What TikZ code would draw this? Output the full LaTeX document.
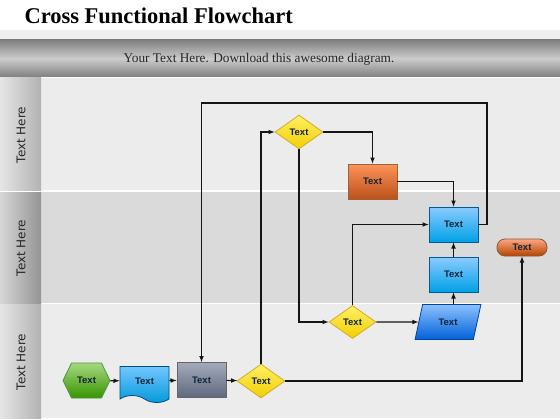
\documentclass[tikz,border=0pt]{standalone}
\usepackage{fontspec}
\setmainfont{Liberation Serif}
\newfontfamily\lanefont{DejaVu Sans}
\newfontfamily\boxfont{Liberation Sans}
\usetikzlibrary{shapes.geometric,shapes.symbols}
\definecolor{laneA}{HTML}{ECECEC}
\definecolor{laneB}{HTML}{DADADA}
\definecolor{txtnavy}{HTML}{14243A}
\definecolor{wire}{HTML}{151515}
\definecolor{slatetop}{HTML}{A3ABBA}
\definecolor{slatebot}{HTML}{5E687E}
\tikzset{
	shape base/.style={draw,line width=0.8pt,inner sep=0pt,text=txtnavy,font=\boxfont\bfseries\fontsize{9.5}{11}\selectfont},
	procbox/.style={shape base,rectangle,minimum width=49pt,minimum height=35pt},
	bluebox/.style={procbox,draw=blue!40!cyan!60!black,top color=cyan!55!blue!45!white,bottom color=cyan!70!blue!90!black},
	decision/.style={shape base,diamond,minimum width=48pt,minimum height=34pt,draw=yellow!60!orange!80!black,top color=yellow!80!orange!60!white,bottom color=yellow!70!orange!95!black},
	lanelabel/.style={rotate=90,text=black!85,font=\lanefont\fontsize{12}{14}\selectfont},
	flow/.style={->,draw=wire,line width=1.1pt}
}
\begin{document}
\begin{tikzpicture}[x=1pt,y=-1pt,>=latex]
	\useasboundingbox (0,0) rectangle (560,420);
	\fill[white] (0,0) rectangle (560,420);
	\fill[black!6] (0,30) rectangle (560,40);
	\shade[top color=black!50,bottom color=black!50,middle color=black!20] (0,40) rectangle (560,77);
	\fill[laneA] (41,78) rectangle (560,190);
	\fill[laneB] (41,192) rectangle (560,303);
	\fill[laneA] (41,304) rectangle (560,418);
	\shade[left color=black!10,right color=black!30] (0,78) rectangle (41,190);
	\shade[left color=black!16,right color=black!42] (0,192) rectangle (41,303);
	\shade[left color=black!10,right color=black!30] (0,304) rectangle (41,418);
	\node[anchor=base west,font=\bfseries\fontsize{22.5}{26}\selectfont] (title) at (21,24) {Cross Functional Flowchart};
	\node[anchor=base,text=black!85,font=\fontsize{13.3}{15}\selectfont] (banner) at (259,63) {Your Text Here. Download this awesome diagram.};
	\node[lanelabel] (lane1) at (21,135) {Text Here};
	\node[lanelabel] (lane2) at (21,248) {Text Here};
	\node[lanelabel] (lane3) at (21,362) {Text Here};

	\node[shape base,signal,signal to=east and west,signal pointer angle=128,minimum width=47pt,minimum height=35pt,draw=green!40!black!70,top color=green!40!olive!50!white,bottom color=green!45!olive!80!black] (start) at (86.5,380.5) {Text};
	\node[shape base,tape,tape bend top=none,tape bend bottom=out and in,tape bend height=7pt,minimum width=49pt,minimum height=36pt,draw=blue!40!cyan!50!black,top color=cyan!60!blue!55!white,bottom color=cyan!70!blue!85!black] (doc) at (144.5,381) {Text};
	\node[procbox,draw=black!60,top color=slatetop,bottom color=slatebot] (review) at (201.5,380) {Text};
	\node[decision] (check) at (261,381) {Text};
	\node[decision] (ask) at (299,132) {Text};
	\node[procbox,draw=orange!50!black!80,top color=orange!70!red!65!white,bottom color=orange!70!red!70!black!90] (work) at (372.5,181.5) {Text};
	\node[bluebox] (merge) at (453.5,224.5) {Text};
	\node[bluebox] (prep) at (453.5,274.5) {Text};
	\node[decision,minimum width=47pt,minimum height=33pt] (test) at (352.5,322) {Text};
	\node[shape base,trapezium,trapezium left angle=67,trapezium right angle=113,trapezium stretches=true,minimum width=66pt,minimum height=35pt,draw=blue!55!cyan!60!black,top color=cyan!45!blue!45!white,bottom color=cyan!45!blue!85!black] (data) at (448,322) {Text};
	\node[shape base,rectangle,rounded corners=8pt,minimum width=50pt,minimum height=17pt,draw=orange!40!black!80,top color=orange!60!red!50!white,bottom color=orange!75!red!70!black] (finish) at (522,247.5) {Text};
	\coordinate (loop) at (487,103);

	\draw[flow] (start) -- (doc);
	\draw[flow] (doc) -- (review);
	\draw[flow] (review) -- (check);
	\draw[flow] (check.north) |- (ask.west);
	\draw[flow] (ask.east) -| (work.north);
	\draw[flow] (work.east) -| (merge.north);
	\draw[flow] (ask.south) |- (test.west);
	\draw[flow] (test.north) |- (merge.west);
	\draw[flow] (test.east) -- (data.west);
	\draw[flow] (data.north -| prep.south) -- (prep.south);
	\draw[flow] (prep) -- (merge);
	\draw[flow] (merge.east) -| (loop) -| (review.north);
	\draw[flow] (check.east) -| (finish.south);
\end{tikzpicture}
\end{document}
